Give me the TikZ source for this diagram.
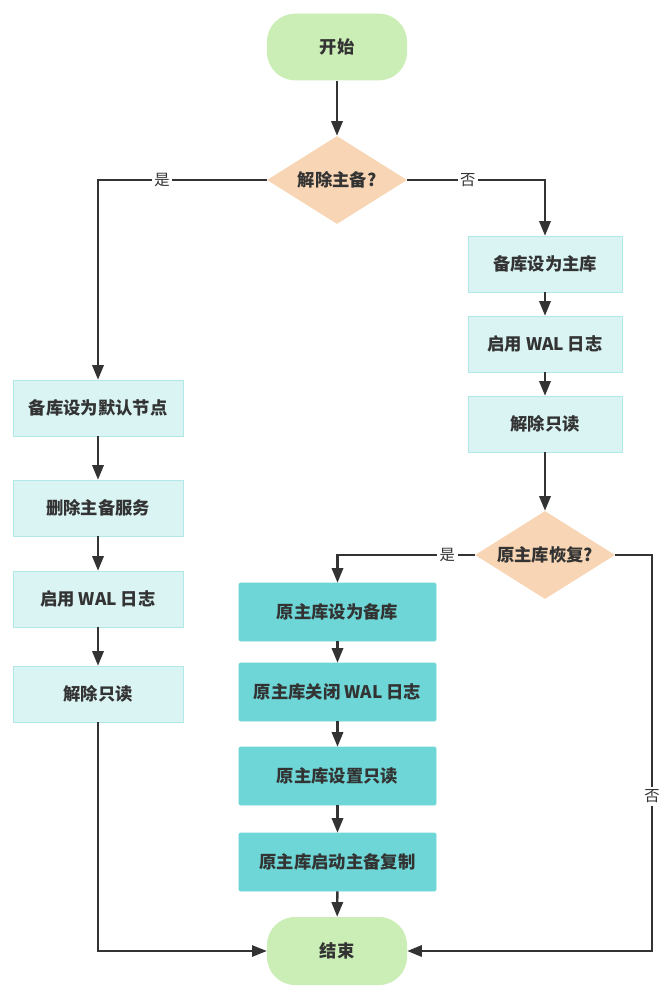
\documentclass[tikz,border=0pt]{standalone}
\usepackage{fontspec}
\setmainfont{Noto Sans CJK SC}
\usetikzlibrary{shapes.geometric,arrows.meta}

\definecolor{termgreen}{HTML}{CBEDB6}
\definecolor{decorange}{HTML}{F8D5B4}
\definecolor{lightcyan}{HTML}{D9F4F3}
\definecolor{cyanline}{HTML}{B2E8E8}
\definecolor{darkcyan}{HTML}{6ED6D6}
\definecolor{ink}{HTML}{333333}

\begin{document}
\begin{tikzpicture}[x=0.75pt,y=-0.75pt,
  font=\bfseries\fontsize{13pt}{15pt}\selectfont, text=ink,
  term/.style={rounded corners=21pt, fill=termgreen, minimum width=105pt, minimum height=50pt},
  decide/.style={diamond, fill=decorange, inner sep=0pt, aspect=1.6, minimum width=105pt, minimum height=66pt},
  lstep/.style={draw=cyanline, fill=lightcyan, minimum width=#1, minimum height=42pt},
  dstep/.style={draw=darkcyan, fill=darkcyan, rounded corners=1pt, minimum width=148pt, minimum height=43.5pt},
  arr/.style={draw=ink, line width=1.8pt, -{Triangle[length=11pt,width=8.5pt]}},
  thin/.style={draw=ink, line width=1.1pt, -{Triangle[length=11pt,width=8.5pt]}},
  lbl/.style={fill=white, inner sep=2pt, font=\fontsize{11.5pt}{13pt}\selectfont}]

  \useasboundingbox (0,0) rectangle (671,995);

  % top part
  \node[term] (start) at (337,47) {开始};
  \node[decide] (ask1) at (337,180) {解除主备?};

  % right branch: standby becomes primary
  \node[lstep=115.5pt] (prom) at (545,264) {备库设为主库};
  \node[lstep=115.5pt] (walr) at (545,344) {启用 WAL 日志};
  \node[lstep=115.5pt] (rwr) at (545,424) {解除只读};
  \node[decide] (ask2) at (545,555) {原主库恢复?};

  % left branch
  \node[lstep=127.5pt] (dflt) at (98,408) {备库设为默认节点};
  \node[lstep=127.5pt] (drop) at (98,508) {删除主备服务};
  \node[lstep=127.5pt] (wall) at (98,599) {启用 WAL 日志};
  \node[lstep=127.5pt] (rwl) at (98,694) {解除只读};

  % old primary back as standby
  \node[dstep] (demo) at (337.5,612) {原主库设为备库};
  \node[dstep] (waloff) at (337.5,692) {原主库关闭 WAL 日志};
  \node[dstep] (ro) at (337.5,776) {原主库设置只读};
  \node[dstep] (repl) at (337.5,862) {原主库启动主备复制};

  \node[term, minimum height=51pt] (stop) at (337,951) {结束};
  \coordinate (edge) at (652,0);

  % connectors
  \draw[arr] (start) -- (ask1);
  \draw[arr] (ask1.west) -| node[lbl, pos=0.31] {是} (dflt);
  \draw[arr] (ask1.east) -| node[lbl, pos=0.22] {否} (prom);
  \draw[arr] (prom) -- (walr);
  \draw[arr] (walr) -- (rwr);
  \draw[arr] (rwr) -- (ask2);
  \draw[arr] (ask2.west) -| node[lbl, pos=0.1] {是} (demo);
  \draw[arr] (ask2.east) -- (edge |- ask2.east) -- node[lbl, pos=0.61] {否} (edge |- stop.east) -- (stop.east);

  \draw[arr] (dflt) -- (drop);
  \draw[arr] (drop) -- (wall);
  \draw[arr] (wall) -- (rwl);
  \draw[thin] (rwl.south) |- (stop.west);

  \draw[arr] (demo) -- (waloff);
  \draw[arr] (waloff) -- (ro);
  \draw[arr] (ro) -- (repl);
  \draw[arr] (repl) -- (stop);

\end{tikzpicture}
\end{document}
